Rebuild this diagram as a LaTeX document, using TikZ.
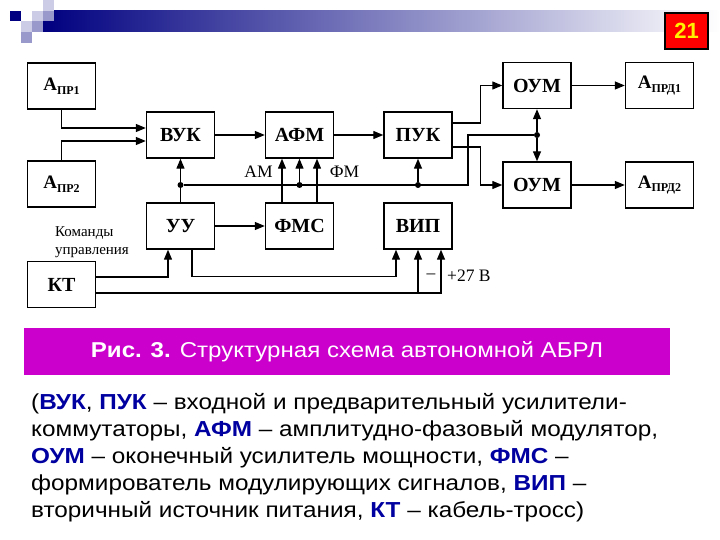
\documentclass[tikz,border=0pt]{standalone}
\usepackage{fontspec}
\setmainfont{Liberation Serif}
\newfontfamily\capfont{Liberation Sans}
\newfontfamily\legendfont[FakeStretch=1.12]{Liberation Sans}
\usetikzlibrary{arrows.meta}

\definecolor{navyblue}{RGB}{0,0,128}
\definecolor{sqlight}{RGB}{204,204,230}
\definecolor{sqmid}{RGB}{153,153,204}
\definecolor{capmagenta}{RGB}{204,0,204}
\definecolor{abbrblue}{RGB}{0,0,160}

\newcommand{\antname}[2]{\fontsize{19}{19}\selectfont\bfseries #1\raisebox{-0.4ex}{\fontsize{12}{12}\selectfont #2}}
\newcommand{\blueabbr}[1]{\textbf{\color{abbrblue}#1}}

\begin{document}
\begin{tikzpicture}[x=1pt, y=-1pt,
	every node/.style={font=\fontsize{20}{20}\selectfont\bfseries},
	block/.style={draw, line width=1.4pt, minimum width=68pt, minimum height=46pt, inner sep=0pt},
	link/.style={line width=1.3pt},
	arr/.style={link, -{Triangle[length=10pt,width=8pt]}},
	dot/.style={circle, fill, inner sep=0pt, minimum size=6pt},
	lbl/.style={font=\fontsize{17.5}{17.5}\selectfont},
	legendline/.style={anchor=base west, inner sep=0pt, font=\legendfont\fontsize{21.7}{21.7}\selectfont}]
	\useasboundingbox (0,0) rectangle (720,540);

	% Header bar
	\shade[left color=navyblue, right color=white] (43,11) rectangle (720,32);
	\fill[navyblue] (10,11) rectangle (21,21);
	\fill[sqlight] (32,11) rectangle (43,21);
	\fill[sqlight] (43,0) rectangle (54,11);
	\fill[sqmid] (43,11) rectangle (54,21);
	\fill[sqlight] (21,21) rectangle (32,32);
	\fill[sqmid] (32,21) rectangle (43,32);
	\fill[sqmid] (21,32) rectangle (32,43);
	\node[draw=black, line width=2pt, fill=red, minimum width=43pt, minimum height=36pt, text=yellow,
		font=\capfont\fontsize{22}{22}\selectfont\bfseries] (pagenum) at (686.5,31) {21};

	% Blocks
	\node[block] (apr1) at (61.5,86) {\antname{А}{ПР1}};
	\node[block] (apr2) at (61.5,184) {\antname{А}{ПР2}};
	\node[block] (vuk) at (180.5,135) {ВУК};
	\node[block] (afm) at (299.5,135) {АФМ};
	\node[block] (puk) at (418,135) {ПУК};
	\node[block] (oum1) at (537,85.5) {ОУМ};
	\node[block] (oum2) at (537,185) {ОУМ};
	\node[block] (aprd1) at (659.5,85.5) {\antname{А}{ПРД1}};
	\node[block] (aprd2) at (659.5,185) {\antname{А}{ПРД2}};
	\node[block] (uu) at (180.5,226) {УУ};
	\node[block] (fms) at (299.5,226) {ФМС};
	\node[block] (vip) at (418,226) {ВИП};
	\node[block] (kt) at (61.5,284.5) {КТ};

	% Junctions
	\node[dot] (d1) at (180.5,185) {};
	\node[dot] (d2) at (299.5,185) {};
	\node[dot] (d3) at (418,185) {};
	\node[dot] (d4) at (537,135) {};
	\coordinate (busturn) at (468,185);
	\coordinate (ktlow) at ([yshift=-8.5pt]kt.east);

	% Signal path
	\draw[arr] (apr1.south) |- ([yshift=7pt]vuk.west);
	\draw[arr] (apr2.north) |- ([yshift=-6pt]vuk.west);
	\draw[arr] (vuk.east) -- (afm.west);
	\draw[arr] (afm.east) -- (puk.west);
	\draw[arr] ([yshift=12pt]puk.east) -- ++(28,0) |- (oum1.west);
	\draw[arr] ([yshift=-12pt]puk.east) -- ++(28,0) |- (oum2.west);
	\draw[arr] (oum1.east) -- (aprd1.west);
	\draw[arr] (oum2.east) -- (aprd2.west);

	% Control bus
	\draw[link] (d1) -- (busturn) |- (d4);
	\draw[link] (d1) -- (uu.north);
	\draw[arr] (d1) -- (vuk.south);
	\draw[arr] (d2) -- (afm.south);
	\draw[arr] (d3) -- (puk.south);
	\draw[arr] (d4) -- (oum1.south);
	\draw[arr] (d4) -- (oum2.north);

	% Modulating signals
	\draw[arr] ([xshift=-17.5pt]fms.north) -- ([xshift=-17.5pt]afm.south);
	\draw[arr] ([xshift=17.5pt]fms.north) -- ([xshift=17.5pt]afm.south);
	\node[lbl] (amlbl) at (258.5,172) {АМ};
	\node[lbl] (fmlbl) at (344.5,172) {ФМ};
	\draw[arr] (uu.east) -- (fms.west);
	\draw[arr] ([xshift=11.5pt]uu.south) -- ++(0,27) -| ([xshift=-22pt]vip.south);

	% Cable
	\draw[arr] ([yshift=7.5pt]kt.east) -| ([xshift=-12.5pt]uu.south);
	\draw[arr] (ktlow) -| ([xshift=23pt]vip.south);
	\draw[arr] (ktlow -| vip.south) -- (vip.south);
	\node[lbl] (minus) at (431,276) {\textendash};
	\node[lbl, anchor=west, inner sep=0pt] (plus27) at (447,276) {+27 В};
	\node[font=\fontsize{15}{18}\selectfont, align=left, anchor=west, inner sep=0pt] (cmds) at (55,242) {Команды\\управления};

	% Caption
	\node[fill=capmagenta, minimum width=646pt, minimum height=47pt, text=white,
		font=\legendfont\fontsize{21.5}{21.5}\selectfont] (caption) at (347,351.5) {\textbf{Рис. 3.} Структурная схема автономной АБРЛ};
	\node[legendline] (leg1) at (31,409) {(\blueabbr{ВУК}, \blueabbr{ПУК} – входной и предварительный усилители-};
	\node[legendline] (leg2) at (31,436) {коммутаторы, \blueabbr{АФМ} – амплитудно-фазовый модулятор,};
	\node[legendline] (leg3) at (31,463) {\blueabbr{ОУМ} – оконечный усилитель мощности, \blueabbr{ФМС} –};
	\node[legendline] (leg4) at (31,490) {формирователь модулирующих сигналов, \blueabbr{ВИП} –};
	\node[legendline] (leg5) at (31,517) {вторичный источник питания, \blueabbr{КТ} – кабель-тросс)};
\end{tikzpicture}
\end{document}
